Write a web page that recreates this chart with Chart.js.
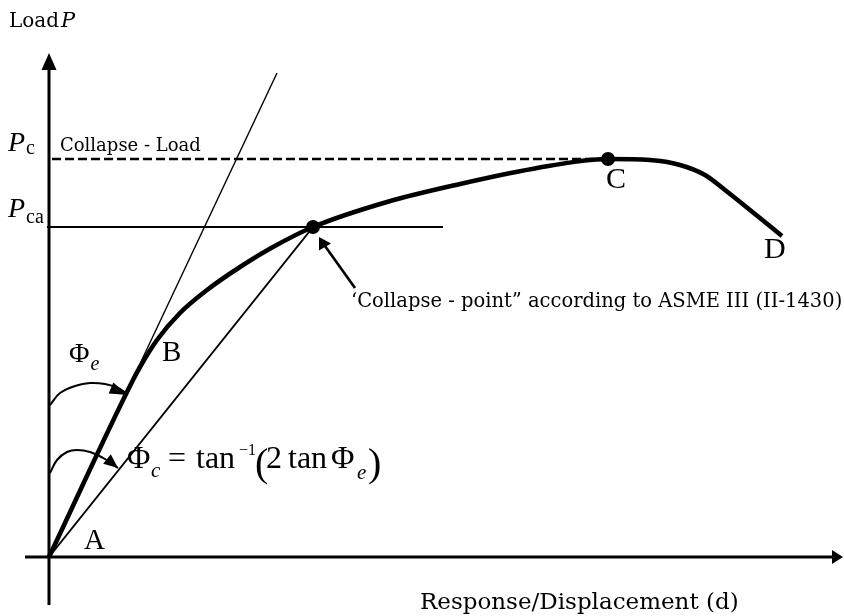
<!DOCTYPE html>
<html>
<head>
<meta charset="utf-8">
<script src="https://cdn.jsdelivr.net/npm/chart.js@4"></script>
<style>
  html, body { margin: 0; padding: 0; background: #fff; }
  #wrap { width: 844px; height: 616px; position: relative; }
</style>
</head>
<body>
<div id="wrap"><canvas id="chart"></canvas></div>
<script>
// load-displacement curve A -> B -> collapse point -> C -> D (arbitrary units)
const displacement = [0, 8.4, 9.1, 10.8, 13.1, 15.8, 19.1, 22.4, 26.4, 33.8, 41.1, 48.3, 55.9, 60.1, 63.1, 65.6, 67.6, 70.1, 73.3];
const load = [0, 17.7, 19.0, 21.7, 24.4, 26.7, 29.0, 31.0, 33.0, 35.5, 37.3, 38.8, 39.8, 39.7, 39.2, 38.2, 36.7, 34.7, 32.1];

// elastic tangent (slope Phi_e) and collapse secant (slope Phi_c)
const elasticX = [0, 22.8];
const elasticY = [0, 48.4];
const secantX = [0, 26.4];
const secantY = [0, 33.0];

const collapseLoad = 39.8;   // P_c
const asmeLoad = 33.0;       // P_ca
const collapseLoadX = [0.3, 55.9];
const asmeLoadX = [-0.2, 39.4];

const markedX = [26.4, 55.9];
const markedY = [33.0, 39.8];

// angle arcs
const arcEX = [0.1, 1.1, 2.6, 4.1, 5.6, 6.9, 7.8];
const arcEY = [15.2, 16.4, 17.1, 17.4, 17.3, 16.9, 16.3];
const arcCX = [0.1, 0.8, 1.8, 2.8, 4.1, 5.6, 6.9];
const arcCY = [8.4, 9.7, 10.5, 10.7, 10.5, 9.8, 8.9];

// pointer to collapse point
const pointerX = [30.6, 27.1];
const pointerY = [26.9, 31.8];

// axes
const xAxisX = [-2.4, 78.4];
const yAxisY = [-4.8, 48.8];

const toPts = (xs, ys) => xs.map((x, i) => ({ x: x, y: ys[i] }));

const line = (data, width, extra) => Object.assign({
  data: data,
  showLine: true,
  borderColor: "#000",
  borderWidth: width,
  pointRadius: 0,
  fill: false,
}, extra || {});

const arrowHeads = [
  { tip: [79.4, 0], base: [78.3, 0], w: 7 },
  { tip: [0, 50.4], base: [0, 48.7], w: 7.5 },
  { tip: [27.0, 32.0], base: [27.6, 31.0], w: 7 },
  { tip: [7.9, 16.2], base: [6.2, 16.9], w: 6 },
  { tip: [6.9, 8.9], base: [5.8, 9.8], w: 6 },
];

const overlay = {
  id: "overlay",
  afterDatasetsDraw(chart) {
    const ctx = chart.ctx;
    const xs = chart.scales.x;
    const ys = chart.scales.y;
    const px = (v) => xs.getPixelForValue(v);
    const py = (v) => ys.getPixelForValue(v);
    ctx.save();
    ctx.fillStyle = "#000";

    arrowHeads.forEach((a) => {
      const tx = px(a.tip[0]), ty = py(a.tip[1]);
      const bx = px(a.base[0]), by = py(a.base[1]);
      const ang = Math.atan2(ty - by, tx - bx);
      const len = Math.hypot(tx - bx, ty - by);
      ctx.beginPath();
      ctx.moveTo(tx, ty);
      ctx.lineTo(tx - len * Math.cos(ang) - a.w * Math.sin(ang), ty - len * Math.sin(ang) + a.w * Math.cos(ang));
      ctx.lineTo(tx - len * Math.cos(ang) + a.w * Math.sin(ang), ty - len * Math.sin(ang) - a.w * Math.cos(ang));
      ctx.closePath();
      ctx.fill();
    });

    const txt = (s, x, y, font) => {
      ctx.font = font;
      ctx.fillText(s, x, y);
      return x + ctx.measureText(s).width;
    };
    ctx.textBaseline = "alphabetic";
    const pal = "DejaVu Serif";
    const tms = "Liberation Serif";

    // y axis title
    let x = txt("Load", 9, 27, "20px '" + pal + "'");
    txt("P", x + 2, 27, "italic 21px '" + pal + "'");

    // P_c, P_ca
    x = txt("P", 8, 151, "italic 28px '" + tms + "'");
    txt("c", x + 1, 154, "20px '" + tms + "'");
    x = txt("P", 8, 217, "italic 28px '" + tms + "'");
    txt("ca", x + 1, 223, "20px '" + tms + "'");
    txt("Collapse - Load", 60, 151, "18px '" + pal + "'");

    // point labels
    txt("A", 84, 549, "29px '" + tms + "'");
    txt("B", 162, 361, "29px '" + tms + "'");
    txt("C", 606, 188, "30px '" + tms + "'");
    txt("D", 764, 258, "30px '" + tms + "'");

    // Phi_e
    x = txt("\u03A6", 69, 362, "28px '" + tms + "'");
    txt("e", x + 1, 370, "italic 20px '" + tms + "'");

    // Phi_c = tan^-1(2 tan Phi_e)
    const f = "32px '" + tms + "'";
    txt("\u03A6", 127, 468, f);
    txt("c", 151, 477, "italic 21px '" + tms + "'");
    txt("=", 168, 468, f);
    txt("tan", 196, 468, f);
    txt("\u22121", 239, 455, "16px '" + tms + "'");
    txt("(", 255, 476, "40px '" + tms + "'");
    txt("2", 266, 468, f);
    txt("tan", 288, 468, f);
    txt("\u03A6", 331, 468, f);
    txt("e", 357, 479, "italic 21px '" + tms + "'");
    txt(")", 368, 476, "40px '" + tms + "'");

    txt("\u2018Collapse - point\u201D according to ASME III (II-1430)", 351, 307, "19.5px '" + pal + "'");
    txt("Response/Displacement (d)", 420, 609, "23px '" + pal + "'");
    ctx.restore();
  },
};

new Chart(document.getElementById("chart"), {
  type: "scatter",
  data: {
    datasets: [
      line(toPts(xAxisX, [0, 0]), 3),
      line(toPts([0, 0], yAxisY), 3),
      line(toPts(collapseLoadX, [collapseLoad, collapseLoad]), 2.6, { borderDash: [9, 4] }),
      line(toPts(asmeLoadX, [asmeLoad, asmeLoad]), 2),
      line(toPts(elasticX, elasticY), 1.4),
      line(toPts(secantX, secantY), 2),
      line(toPts(arcEX, arcEY), 2, { tension: 0.4 }),
      line(toPts(arcCX, arcCY), 2, { tension: 0.4 }),
      line(toPts(pointerX, pointerY), 2.6),
      line(toPts(displacement, load), 4.6, { cubicInterpolationMode: "monotone" }),
      { data: toPts(markedX, markedY), pointRadius: 7, pointBackgroundColor: "#000", pointBorderWidth: 0, showLine: false },
    ],
  },
  options: {
    responsive: true,
    maintainAspectRatio: false,
    animation: false,
    layout: { padding: 0, autoPadding: false },
    plugins: { legend: { display: false }, tooltip: { enabled: false } },
    scales: {
      x: { type: "linear", min: -4.9, max: 79.5, display: false },
      y: { type: "linear", min: -5.9, max: 55.7, display: false },
    },
  },
  plugins: [overlay],
});
</script>
</body>
</html>
